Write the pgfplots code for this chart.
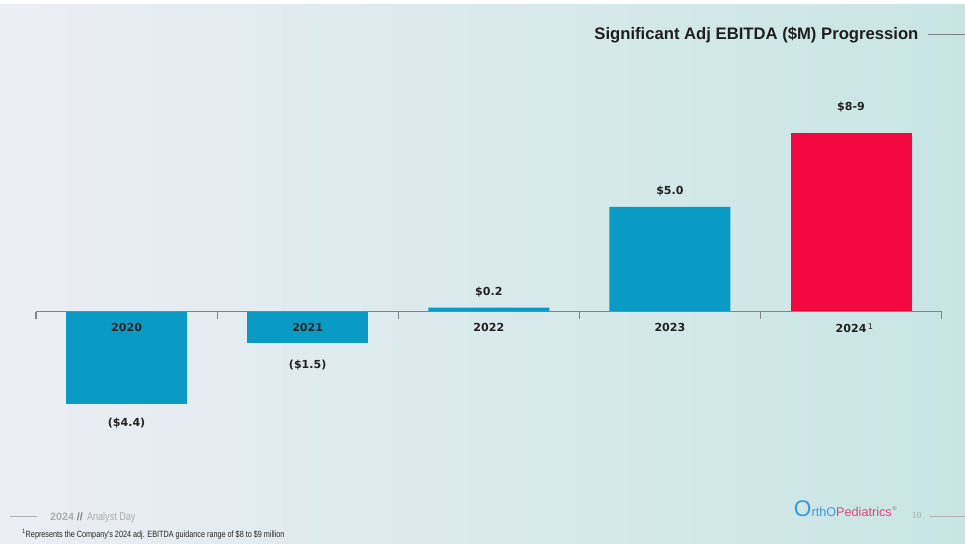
\documentclass[border=0pt]{standalone}
\usepackage{pgfplots}
\pgfplotsset{compat=1.18}
\usepackage{fontspec}
\setmainfont{DejaVu Sans}
\newfontfamily\arial{Liberation Sans}
\newfontfamily\narrow[FakeStretch=0.8]{Liberation Sans}
\newfontfamily\serifnum{Liberation Serif}
\definecolor{barteal}{HTML}{0A9BC4}
\definecolor{barred}{HTML}{F2083E}
\definecolor{bgleft}{HTML}{ECEEF4}
\definecolor{bgright}{HTML}{C8E5E4}
\definecolor{lbl}{HTML}{222222}
\definecolor{axgray}{HTML}{7F8488}
\definecolor{logoblue}{HTML}{3A9AD9}
\definecolor{logopink}{HTML}{E0457B}
\begin{document}
\begin{tikzpicture}
\begin{scope}[x=0.75pt,y=0.75pt]
\shade[left color=bgleft,right color=bgright] (0,0) rectangle (965,540);
\fill[white] (0,540) rectangle (965,544);
\end{scope}
\begin{axis}[
 at={(27pt,79.5pt)}, anchor=south west, scale only axis,
 width=679.5pt, height=252pt,
 xmin=-0.5, xmax=4.5, ymin=-6, ymax=10,
 axis x line=middle, axis y line=none,
 axis line style={-, draw=axgray, line width=0.8pt},
 hide obscured x ticks=false,
 xtick={0,1,2,3,4},
 xticklabels={2020,2021,2022,2023,2024\rlap{\textsuperscript{\normalfont\fontsize{6}{6}\selectfont\,1}}},
 xticklabel style={font=\bfseries\fontsize{8.3}{9}\selectfont, text=lbl, yshift=-5pt},
 major tick length=0pt,
 tick style={draw=axgray, line width=0.8pt},
 extra x ticks={-0.5,0.5,1.5,2.5,3.5,4.5},
 extra x tick labels={},
 extra x tick style={major tick length=5pt},
 ybar, bar width=90.75pt,
 point meta=explicit symbolic,
 nodes near coords,
 every node near coord/.append style={font=\bfseries\fontsize{8.3}{9}\selectfont, text=lbl, inner ysep=8pt},
 clip=false, axis on top,
]
\addplot[fill=barteal, draw=none, bar shift=0pt, every node near coord/.append style={anchor=north, yshift=-2pt}] coordinates {(0,-4.4) [(\$4.4)]};
\addplot[fill=barteal, draw=none, bar shift=0pt, every node near coord/.append style={anchor=north, yshift=-4.5pt}] coordinates {(1,-1.5) [(\$1.5)]};
\addplot[fill=barteal, draw=none, bar shift=0pt, every node near coord/.append style={anchor=south}] coordinates {(2,0.2) [\$0.2] (3,5.0) [\$5.0]};
\addplot[fill=barred, draw=none, bar shift=0pt, every node near coord/.append style={anchor=south, yshift=8pt}] coordinates {(4,8.5) [\$8-9]};
\end{axis}
\begin{scope}[x=0.75pt,y=0.75pt]
\node[anchor=base east, inner sep=0, font=\arial\bfseries\fontsize{12.5}{14}\selectfont, text=black!88] at (919,504) {Significant Adj EBITDA (\$M) Progression};
\draw[axgray, line width=0.6pt] (928,510) -- (965,510);
\draw[gray!60, line width=0.6pt] (10,27) -- (37,27);
\node[anchor=base west, inner sep=0, text=gray!65] at (50,23) {{\arial\bfseries\fontsize{8}{9}\selectfont 2024 }{\arial\bfseries\fontsize{8}{9}\selectfont\color{gray} //} {\narrow\fontsize{8.5}{9}\selectfont Analyst Day}};
\node[anchor=base west, inner sep=0, font=\narrow\fontsize{6.8}{8}\selectfont, text=black!85] at (22,6) {\textsuperscript{1}Represents the Company's 2024 adj. EBITDA guidance range of \$8 to \$9 million};
\node[anchor=base west, inner sep=0] at (794,27) {{\arial\fontsize{17}{17}\selectfont\color{logoblue}O}{\arial\fontsize{9.5}{10}\selectfont\color{logoblue}rthO}{\arial\fontsize{9.5}{10}\selectfont\color{logopink}Pediatrics}{\fontsize{4}{4}\selectfont\raisebox{5pt}{\color{gray}®}}};
\node[anchor=base, inner sep=0, font=\serifnum\fontsize{7}{8}\selectfont, text=gray!70] at (917,25) {10};
\draw[gray!60, line width=0.6pt] (930,27) -- (965,27);
\end{scope}
\end{tikzpicture}
\end{document}
